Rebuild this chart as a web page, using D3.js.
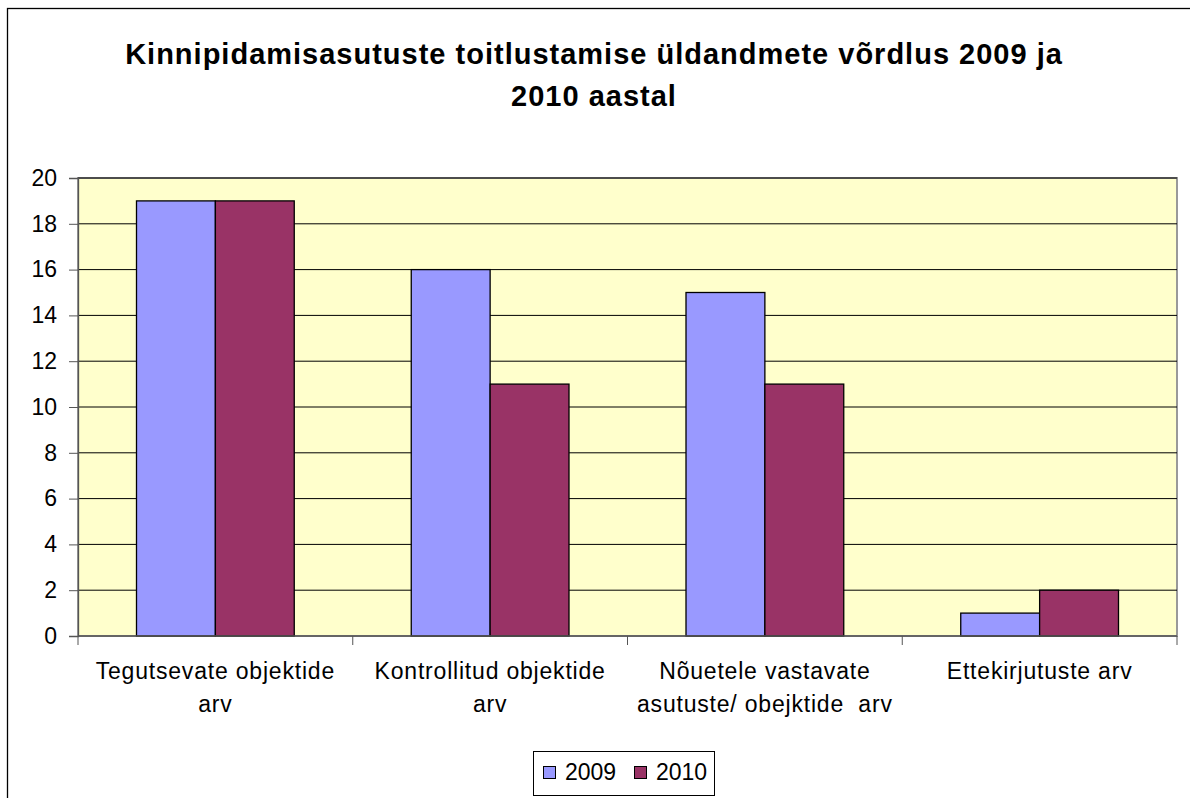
<!DOCTYPE html>
<html><head><meta charset="utf-8">
<script src="https://cdn.jsdelivr.net/npm/d3@7"></script>
<style>body{margin:0;background:#fff}svg{display:block;font-family:"Liberation Sans",Arial,sans-serif}.xl text{white-space:pre}</style>
</head><body><svg id="c" width="1190" height="798"></svg>
<script>
const categories = [["Tegutsevate objektide","arv"],["Kontrollitud objektide","arv"],["Nõuetele vastavate","asutuste/ obejktide  arv"],["Ettekirjutuste arv"]];
const series = ["2009","2010"];
const values2009 = [19,16,15,1];
const values2010 = [19,11,11,2];
const yTicks = [0,2,4,6,8,10,12,14,16,18,20];
const colors = ["#9999FF","#993366"];
const titleLines = ["Kinnipidamisasutuste toitlustamise üldandmete võrdlus 2009 ja","2010 aastal"];

const svg = d3.select("#c");
svg.append("rect").attr("x",7.5).attr("y",8.5).attr("width",1190).attr("height",800).attr("fill","#fff").attr("stroke","#000").attr("stroke-width",1.3);

const L=78,R=1177,T=178,B=636;
svg.append("rect").attr("x",L).attr("y",T).attr("width",R-L).attr("height",B-T).attr("fill","#FFFFCC").attr("stroke","#999").attr("stroke-width",2);

const y = d3.scaleLinear().domain([0,20]).range([B,T]);
const x0 = d3.scaleBand().domain(d3.range(categories.length)).range([L,R]).paddingInner(0).paddingOuter(0);
const x1 = d3.scaleBand().domain(series).range([58.5, x0.bandwidth()-58.5]);

svg.append("g").selectAll("line").data(yTicks.filter(d=>d>0)).join("line")
 .attr("x1",L).attr("x2",R).attr("y1",d=>y(d)).attr("y2",d=>y(d)).attr("stroke","#000").attr("stroke-width",1);

const data = categories.map((c,i)=>({i, vals:[values2009[i],values2010[i]]}));
const g = svg.append("g");
data.forEach(d=>{
  d.vals.forEach((v,j)=>{
    g.append("rect").attr("x",x0(d.i)+x1(series[j])).attr("y",y(v)).attr("width",x1.bandwidth()).attr("height",y(0)-y(v))
     .attr("fill",colors[j]).attr("stroke","#000").attr("stroke-width",1.3);
  });
});

const ya = svg.append("g").attr("transform",`translate(${L},0)`).call(d3.axisLeft(y).tickValues(yTicks).tickSize(9).tickPadding(12));
ya.select(".domain").attr("stroke","#555").attr("stroke-width",1.3);
ya.selectAll(".tick line").attr("stroke","#555");
ya.selectAll("text").attr("font-size","23px").attr("fill","#000").attr("font-family","Liberation Sans, Arial, sans-serif");

svg.append("line").attr("x1",L).attr("x2",R).attr("y1",B).attr("y2",B).attr("stroke","#555").attr("stroke-width",1.5);
svg.append("g").selectAll("line").data(d3.range(categories.length+1)).join("line")
 .attr("x1",d=>L+d*x0.bandwidth()).attr("x2",d=>L+d*x0.bandwidth()).attr("y1",B).attr("y2",B+9).attr("stroke","#555");
const xl = svg.append("g").attr("class","xl");
categories.forEach((c,i)=>{
  const t = xl.append("text").attr("x",x0(i)+x0.bandwidth()/2).attr("y",679).attr("text-anchor","middle").attr("font-size","23px").attr("letter-spacing","0.8px");
  c.forEach((line,k)=>t.append("tspan").attr("x",x0(i)+x0.bandwidth()/2).attr("dy",k?33:0).text(line));
});

const tt = svg.append("text").attr("text-anchor","middle").attr("font-size","29px").attr("font-weight","bold").attr("letter-spacing","1px");
titleLines.forEach((l,k)=>tt.append("tspan").attr("x",594).attr("y",64+k*42).text(l));

const lg = svg.append("g");
lg.append("rect").attr("x",533.5).attr("y",751.5).attr("width",181).attr("height",44).attr("fill","#fff").attr("stroke","#000");
series.forEach((s,j)=>{
  const ox = 543 + j*91;
  lg.append("rect").attr("x",ox+0.5).attr("y",766.5).attr("width",12).attr("height",12).attr("fill",colors[j]).attr("stroke","#000");
  lg.append("text").attr("x",ox+22).attr("y",780).attr("font-size","23px").text(s);
});
</script></body></html>
